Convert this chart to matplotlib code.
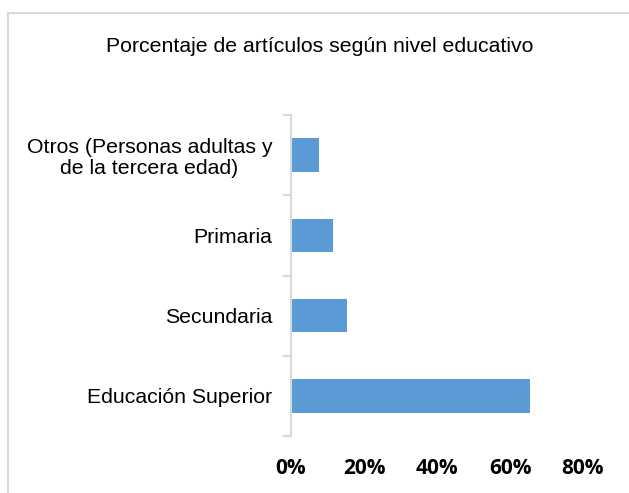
import matplotlib
matplotlib.use("Agg")
import matplotlib.pyplot as plt
from matplotlib.patches import Rectangle
from matplotlib.ticker import PercentFormatter, FixedLocator

# datos (de abajo hacia arriba)
categorias = ["Educación Superior", "Secundaria", "Primaria",
              "Otros (Personas adultas y\nde la tercera edad)"]
porcentajes = [65.4, 15.4, 11.5, 7.7]
titulo = "Porcentaje de artículos según nivel educativo"
x_ticks = [0, 20, 40, 60, 80]

fig = plt.figure(figsize=(6.29, 4.93), dpi=100)

# marco gris del grafico
fig.patches.append(Rectangle((8 / 629, -0.1), 1.2, 1 - 13 / 493 + 0.1,
                             transform=fig.transFigure, fill=False,
                             edgecolor="#d9d9d9", linewidth=1.5))

ax = fig.add_axes([291 / 629, 1 - 436 / 493, (583 - 291) / 629, (436 - 115) / 493])

pos = range(len(categorias))
ax.barh(pos, porcentajes, height=0.42, color="#5b9bd5")

ax.set_xlim(0, 80)
ax.set_ylim(-0.5, len(categorias) - 0.5)
ax.set_xticks(x_ticks)
ax.xaxis.set_major_formatter(PercentFormatter(decimals=0))
for lab in ax.get_xticklabels():
    lab.set_fontfamily("Open Sans")
    lab.set_fontweight("bold")
    lab.set_fontsize(15)
ax.tick_params(axis="x", length=0, pad=16)

ax.set_yticks(list(pos))
ax.set_yticklabels(categorias, fontfamily="Liberation Sans", fontsize=15.3,
                   multialignment="center", linespacing=1.15)
ax.tick_params(axis="y", which="major", length=0, pad=13.5)
ax.yaxis.set_minor_locator(FixedLocator([i - 0.5 for i in range(len(categorias) + 1)]))
ax.tick_params(axis="y", which="minor", length=6, width=1.5, color="#d9d9d9")

for s in ["top", "right", "bottom"]:
    ax.spines[s].set_visible(False)
ax.spines["left"].set_color("#d9d9d9")
ax.spines["left"].set_linewidth(1.5)

fig.text(320 / 629, 1 - 46 / 493, titulo, ha="center", va="center",
         fontfamily="Liberation Sans", fontsize=15.3)

fig.savefig("out.png", dpi=100)
